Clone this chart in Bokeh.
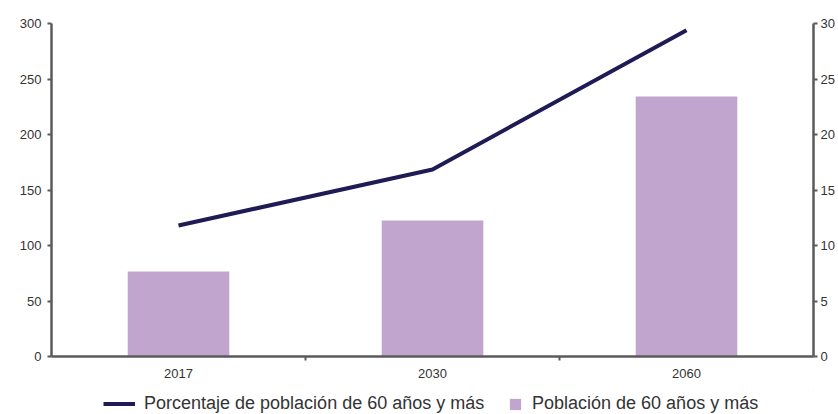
from bokeh.plotting import figure
from bokeh.layouts import column
from bokeh.models import (Range1d, LinearAxis, FixedTicker, Legend, LegendItem,
                          ColumnDataSource)
from bokeh.embed import file_html
from bokeh.resources import INLINE

# ---- data ----
years = ["2017", "2030", "2060"]
poblacion_60 = [76.6, 122.5, 234.2]      # left axis (bars)
porcentaje_60 = [11.8, 16.85, 29.4]      # right axis (line, %)
left_ticks = [0, 50, 100, 150, 200, 250, 300]
right_ticks = [0, 5, 10, 15, 20, 25, 30]
label_line = "Porcentaje de población de 60 años y más"
label_bar = "Población de 60 años y más"

FONT = "Liberation Sans"
TXT = "#333333"
AXC = "#5a5a5a"
BAR_C = "#C2A5CF"
LINE_C = "#1E1B55"

xpos = [i + 0.5 for i in range(len(years))]
src = ColumnDataSource(dict(x=xpos, pob=poblacion_60, pct=porcentaje_60))

p = figure(width=838, height=390, output_backend="svg", toolbar_location=None,
           x_range=Range1d(0, len(years)), y_range=Range1d(left_ticks[0], left_ticks[-1]),
           min_border_left=51, min_border_right=25, min_border_top=23,
           min_border_bottom=34, x_axis_type=None, y_axis_type=None)
p.extra_y_ranges = {"pct": Range1d(right_ticks[0], right_ticks[-1])}
p.xgrid.visible = False
p.ygrid.visible = False
p.outline_line_color = None

p.vbar(x="x", top="pob", width=0.4, bottom=0, source=src,
       fill_color=BAR_C, line_color=None)
p.line(x="x", y="pct", source=src, y_range_name="pct",
       line_color=LINE_C, line_width=4)


def style(ax):
    ax.axis_line_color = AXC
    ax.axis_line_width = 2.5
    ax.major_tick_line_color = AXC
    ax.major_tick_line_width = 2
    ax.minor_tick_line_color = AXC
    ax.minor_tick_line_width = 2
    ax.major_label_text_font = FONT
    ax.major_label_text_font_size = "13px"
    ax.major_label_text_color = TXT


xax = LinearAxis(ticker=FixedTicker(ticks=xpos, minor_ticks=list(range(1, len(years)))),
                 major_label_overrides={x: y for x, y in zip(xpos, years)})
style(xax)
xax.major_tick_out = 0
xax.major_tick_in = 0
xax.minor_tick_out = 4
xax.minor_tick_in = 0
xax.major_label_standoff = 8
p.add_layout(xax, "below")

lax = LinearAxis(ticker=FixedTicker(ticks=left_ticks))
style(lax)
lax.major_tick_out = 4
lax.major_tick_in = 0
lax.minor_tick_out = 0
lax.major_label_standoff = 6
p.add_layout(lax, "left")

rax = LinearAxis(y_range_name="pct", ticker=FixedTicker(ticks=right_ticks))
style(rax)
rax.major_tick_out = 4
rax.major_tick_in = 0
rax.minor_tick_out = 0
rax.major_label_standoff = 3
p.add_layout(rax, "right")

# ---- legend strip (separate figure so nothing is clipped) ----
# its ranges keep the proxy glyphs out of view; only the legend shows
pl = figure(width=838, height=24, output_backend="svg", toolbar_location=None,
            x_range=Range1d(-2, -1), y_range=Range1d(-2, -1),
            min_border_left=51, min_border_right=25, min_border_top=0,
            min_border_bottom=0, x_axis_type=None, y_axis_type=None)
pl.xgrid.visible = False
pl.ygrid.visible = False
pl.outline_line_color = None
leg_line = pl.line(x="x", y="pct", source=src, line_color=LINE_C, line_width=4)
leg_bar = pl.vbar(x="x", top="pob", width=0.4, source=src,
                  fill_color=BAR_C, line_color=None)


def make_legend(renderer, label, loc, gw, gh, standoff):
    return Legend(items=[LegendItem(label=label, renderers=[renderer])],
                  location=loc, orientation="horizontal",
                  glyph_width=gw, glyph_height=gh, padding=0, margin=0, spacing=0,
                  label_standoff=standoff, border_line_color=None,
                  background_fill_alpha=0, label_text_font=FONT,
                  label_text_font_size="18px", label_text_color=TXT)


pl.add_layout(make_legend(leg_line, label_line, (52, 0), 32, 15, 9), "center")
pl.add_layout(make_legend(leg_bar, label_bar, (457, 0), 14, 14, 10), "center")

layout = column(p, pl, spacing=0)
open("out.html", "w").write(file_html(layout, INLINE))
